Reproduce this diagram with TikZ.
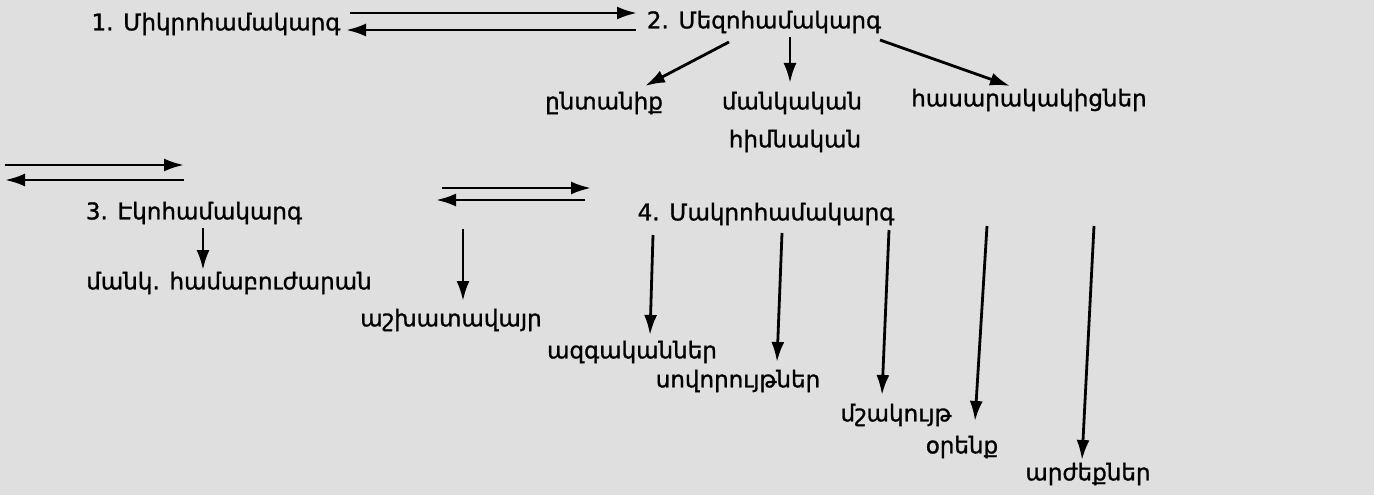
\documentclass[tikz,border=0pt]{standalone}
\usepackage{fontspec}
\setmainfont[FakeBold=1.2]{DejaVu Sans}
\usetikzlibrary{arrows.meta,calc}
\definecolor{bg}{RGB}{223,223,223}
\tikzset{
  lbl/.style={inner sep=0pt, font=\fontsize{23}{26}\selectfont, text=black},
  arr/.style={line width=2.8pt, -{Latex[length=20pt,width=13pt]}},
}
\begin{document}
\begin{tikzpicture}[x=1pt,y=-1pt]
\fill[bg] (0,0) rectangle (1374,495);
\useasboundingbox (0,0) rectangle (1374,495);
% nodes
\node[lbl] (n1) at (216,24) {1. Միկրոհամակարգ};
\node[lbl] (n2) at (764,22) {2. Մեզոհամակարգ};
\node[lbl] (fam) at (604,103) {ընտանիք};
\node[lbl] (kind) at (792,103) {մանկական};
\node[lbl] (kind2) at (795,141) {հիմնական};
\node[lbl] (peers) at (1029,100) {հասարակակիցներ};
\node[lbl] (n3) at (194,213) {3. Էկոհամակարգ};
\node[lbl] (clinic) at (229,283) {մանկ. համաբուժարան};
\node[lbl] (work) at (451,320) {աշխատավայր};
\node[lbl] (n4) at (766,214) {4. Մակրոհամակարգ};
\node[lbl] (rel) at (632,352) {ազգականներ};
\node[lbl] (cust) at (738,381) {սովորույթներ};
\node[lbl] (cult) at (896,415) {մշակույթ};
\node[lbl] (law) at (962,447) {օրենք};
\node[lbl] (val) at (1088,474) {արժեքներ};
% free-end coordinates
\coordinate (l1) at (5,165); \coordinate (r1) at (184,165);
\coordinate (l2) at (5,180); \coordinate (r2) at (184,180);
\coordinate (ml1) at (442,188); \coordinate (mr1) at (591,188);
\coordinate (ml2) at (436,200); \coordinate (mr2) at (585,200);
\coordinate (ws) at (463,229);
% connectors
\draw[arr] ($(n1)+(134,-11)$) -- ($(n2)+(-127,-9)$);
\draw[arr] ($(n2)+(-128,8)$) -- ($(n1)+(130,6)$);
\draw[arr] ($(n2)+(-35,20)$) -- ($(fam)+(41,-17)$);
\draw[arr] ($(n2)+(26,15)$) -- ($(kind)+(-2,-20)$);
\draw[arr] ($(n2)+(116,18)$) -- ($(peers)+(-19,-14)$);
\draw[arr] (l1) -- (r1);
\draw[arr] (r2) -- (l2);
\draw[arr] ($(n3)+(9,15)$) -- ($(clinic)+(-26,-13)$);
\draw[arr] (ml1) -- (mr1);
\draw[arr] (mr2) -- (ml2);
\draw[arr] (ws) -- ($(work)+(12,-19)$);
\draw[arr] ($(n4)+(-113,21)$) -- ($(rel)+(18,-17)$);
\draw[arr] ($(n4)+(16,19)$) -- ($(cust)+(39,-19)$);
\draw[arr] ($(n4)+(123,16)$) -- ($(cult)+(-14,-20)$);
\draw[arr] ($(n4)+(221,12)$) -- ($(law)+(13,-26)$);
\draw[arr] ($(n4)+(328,12)$) -- ($(val)+(-6,-14)$);
\end{tikzpicture}
\end{document}
